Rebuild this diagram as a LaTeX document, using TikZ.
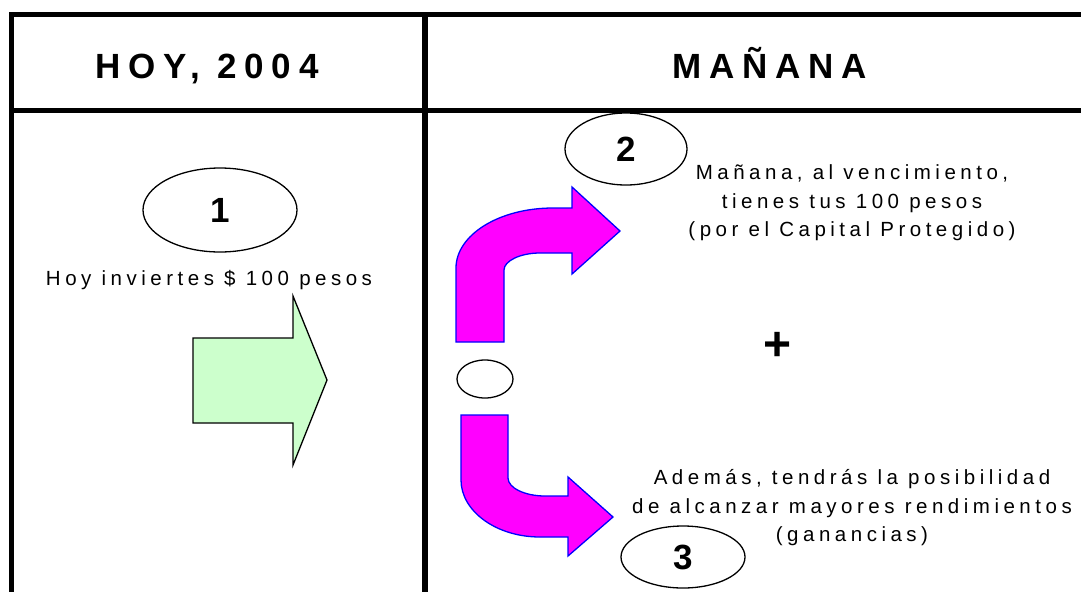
\documentclass[tikz,border=0pt]{standalone}
\usepackage{fontspec}
\setmainfont{Liberation Sans}
\newfontfamily\spaced[LetterSpace=22]{Liberation Sans}
\newfontfamily\headspaced[LetterSpace=22]{Liberation Sans}
\usetikzlibrary{positioning,shapes.geometric}
\definecolor{paleGreen}{HTML}{CCFFCC}
\definecolor{hotPink}{HTML}{FF00FF}

\begin{document}
\begin{tikzpicture}[x=1pt,y=-1pt,
		frame/.style={line width=5pt},
		head/.style={anchor=base,font=\fontsize{35}{40}\selectfont\headspaced\bfseries},
		body/.style={align=center,font=\fontsize{20.5}{28.5}\selectfont\spaced},
		num/.style={ellipse,draw,line width=1.3pt,inner sep=0pt,font=\fontsize{35}{35}\selectfont\bfseries},
		bigarrow/.style={draw=blue,fill=hotPink,line width=1.3pt}]
	\useasboundingbox (0,0) rectangle (1081,592);
	\draw[frame] (1081,14.5) -| (11,592);
	\draw[frame] (11,110) -- (1081,110);
	\draw[frame,line width=6pt] (424.5,14.5) -- (424.5,592);
	\node[head] (hoy) at (207,78) {HOY, 2004};
	\node[head] (manana) at (770,78) {MAÑANA};
	\node[num,minimum width=154pt,minimum height=84pt] (n1) at (220,210) {1};
	\node[body] (invierte) at (209,280) {Hoy inviertes \$ 100 pesos};
	\draw[fill=paleGreen,line width=1.3pt] (193,338) -- (293,338) -- (293,296) -- (327,380)
		-- (293,465) -- (293,423) -- (193,423) -- cycle;
	\node[num,minimum width=122pt,minimum height=72pt] (n2) at (626,149) {\raisebox{-6pt}{2}};
	\node[body] (capital) at (852,203) {Mañana, al vencimiento,\\tienes tus 100 pesos\\(por el Capital Protegido)};
	\draw[bigarrow] (456,342) -- (456,268) .. controls (456,235) and (499,208) .. (553,208) -- (572,208)
		-- (572,187) -- (620,231) -- (572,274) -- (572,253) -- (540,253)
		.. controls (520,253) and (504,261) .. (504,270) -- (504,342) -- cycle;
	\node[ellipse,draw,line width=1.3pt,minimum width=56pt,minimum height=38pt] (o) at (485,379) {};
	\node[font=\fontsize{48}{48}\selectfont\bfseries] (mas) at (778,346) {+};
	\draw[bigarrow] (461,415) -- (508,415) -- (508,478) .. controls (508,488) and (525,496) .. (545,496)
		-- (568,496) -- (568,477) -- (613,517) -- (568,556) -- (568,537) -- (540,537)
		.. controls (496,537) and (461,511) .. (461,480) -- cycle;
	\node[body] (rend) at (852,508) {Además, tendrás la posibilidad\\de alcanzar mayores rendimientos\\(ganancias)};
	\node[num,minimum width=124pt,minimum height=62pt] (n3) at (683,557) {3};
\end{tikzpicture}
\end{document}
